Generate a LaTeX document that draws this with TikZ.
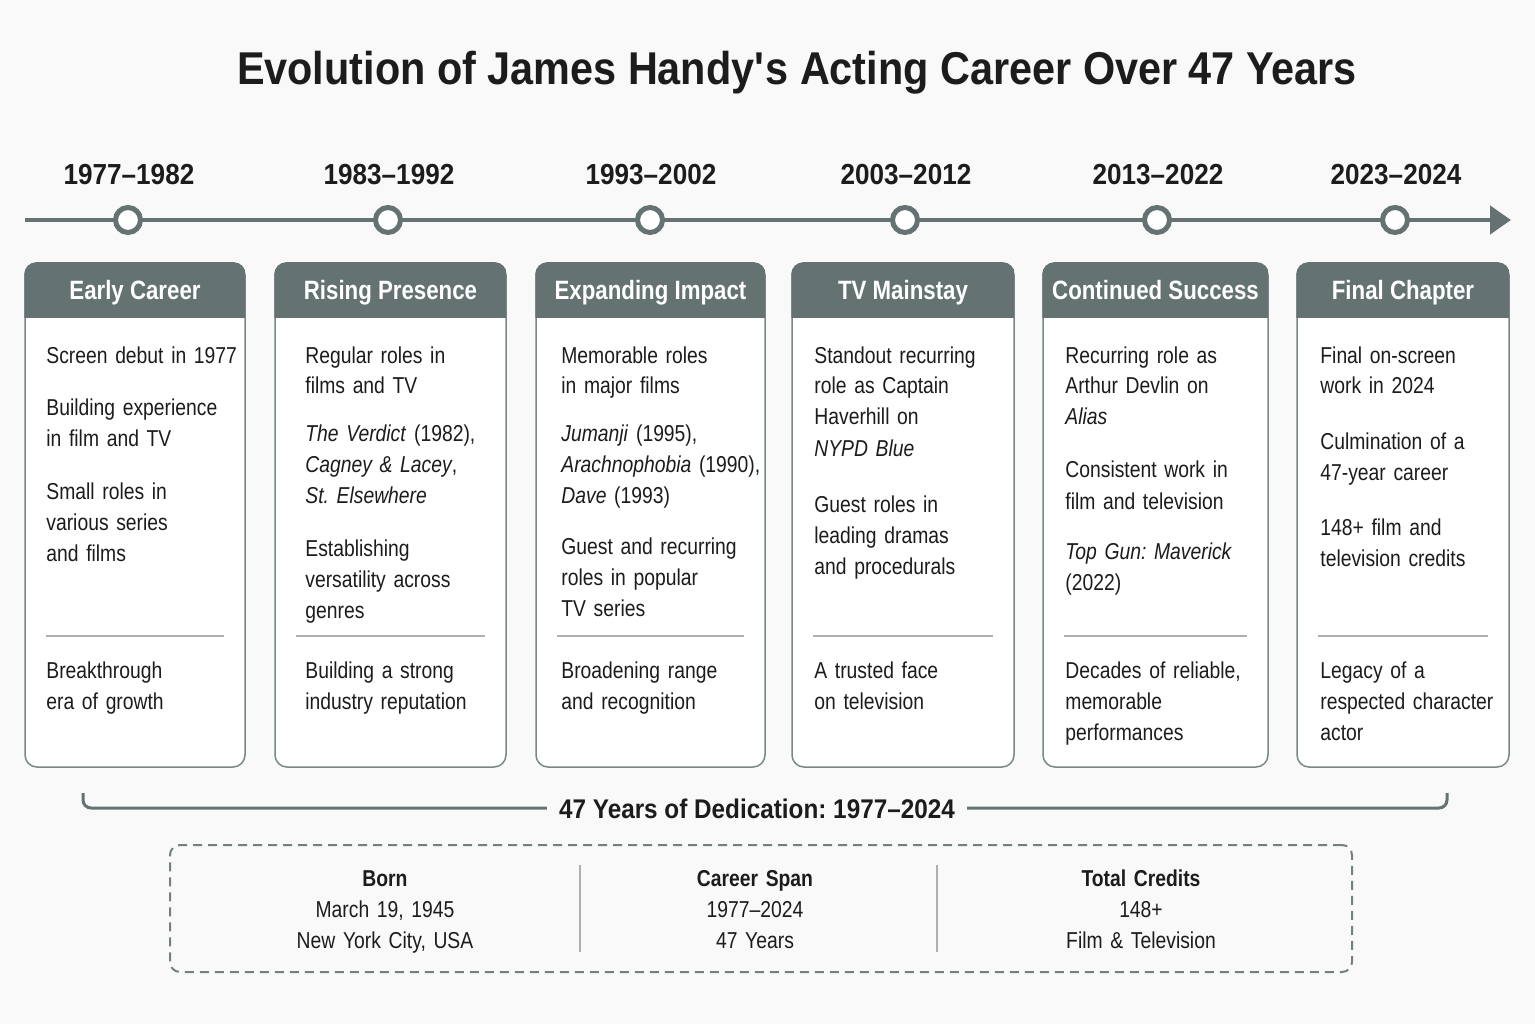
\documentclass[tikz,border=0pt]{standalone}
\usepackage{fontspec}
\setmainfont{Liberation Sans}[FakeStretch=0.84]
\newfontfamily\headfont{Liberation Sans}[FakeStretch=0.9]
\usetikzlibrary{arrows.meta}
\definecolor{slate}{RGB}{100,114,114}
\definecolor{lline}{RGB}{172,176,176}
\definecolor{bgrey}{RGB}{249,249,249}
\definecolor{ink}{RGB}{28,28,28}
\frenchspacing

\begin{document}
\begin{tikzpicture}[x=1pt,y=-1pt,thick]
      \tikzstyle{card}=[draw=slate!85,line width=1.5pt,fill=white,rounded corners=12pt,minimum height=504pt,inner sep=0pt]
      \tikzstyle{head}=[text=white,font=\bfseries\fontsize{26.5}{30}\selectfont]
      \tikzstyle{yearlbl}=[text=ink,font=\headfont\bfseries\fontsize{29}{32}\selectfont]
      \tikzstyle{dot}=[circle,draw=slate,line width=5pt,fill=white,minimum size=25pt,inner sep=0pt]
      \tikzstyle{body}=[anchor=base west,align=left,inner sep=0pt,text width=215pt,text=ink,font=\fontsize{23}{31}\selectfont]
      \tikzstyle{sep}=[draw=lline,line width=1.5pt]
      \tikzstyle{fact}=[anchor=base,align=center,inner sep=0pt,text width=320pt,text=ink,font=\fontsize{23}{31}\selectfont]

      % page
      \fill[bgrey] (0,0) rectangle (1535,1024);
      \useasboundingbox (0,0) rectangle (1535,1024);
      \node[anchor=base,text=ink,font=\headfont\bfseries\fontsize{46}{50}\selectfont] (title) at (797,85)
        {Evolution of James Handy\textquotesingle s Acting Career Over 47 Years};

      % timeline
      \coordinate (tstart) at (25,220);
      \coordinate (tend) at (1511,220);
      \draw[slate,line width=4.5pt,-{Triangle[length=21pt,width=28pt]}] (tstart) -- (tend);
      \foreach \n/\x/\yr in {1/128/1977–1982,2/388/1983–1992,3/650/1993–2002,4/905/2003–2012,5/1157/2013–2022,6/1395/2023–2024}{
        \node[dot] (p\n) at (\x,220) {};
        \node[yearlbl,anchor=base] (y\n) at (\x+1,185) {\yr};
      }

      % cards
      \foreach \n/\l/\r/\t in {1/25/245/Early Career,2/275/506/Rising Presence,3/536/765/Expanding Impact,4/792/1014/TV Mainstay,5/1043/1268/Continued Success,6/1297/1509/Final Chapter}{
        \node[card,minimum width={\r-\l}] (c\n) at ({(\l+\r)/2},515) {};
        \begin{scope}
          \clip[rounded corners=12pt] (c\n.south west) rectangle (c\n.north east);
          \fill[slate] (c\n.north west) rectangle (\r,318);
        \end{scope}
        \node[head,anchor=base] (h\n) at ({(\l+\r)/2},300) {\t};
        \draw[sep] ({\l+21},636) -- ({\r-21},636);
      }

      \node[body] (b1) at (46,363) {Screen debut in 1977\\[22pt]
        Building experience\\in film and TV\\[22pt]
        Small roles in\\various series\\and films};
      \node[body] (f1) at (46,678) {Breakthrough\\era of growth};

      \node[body] (b2) at (305,363) {Regular roles in\\films and TV\\[17pt]
        \textit{The Verdict} (1982),\\\textit{Cagney \& Lacey},\\\textit{St. Elsewhere}\\[22pt]
        Establishing\\versatility across\\genres};
      \node[body] (f2) at (305,678) {Building a strong\\industry reputation};

      \node[body] (b3) at (561,363) {Memorable roles\\in major films\\[17pt]
        \textit{Jumanji} (1995),\\\textit{Arachnophobia} (1990),\\\textit{Dave} (1993)\\[20pt]
        Guest and recurring\\roles in popular\\TV series};
      \node[body] (f3) at (561,678) {Broadening range\\and recognition};

      \node[body] (b4) at (814,363) {Standout recurring\\role as Captain\\Haverhill on\\\textit{NYPD Blue}\\[26pt]
        Guest roles in\\leading dramas\\and procedurals};
      \node[body] (f4) at (814,678) {A trusted face\\on television};

      \node[body] (b5) at (1065,363) {Recurring role as\\Arthur Devlin on\\\textit{Alias}\\[22pt]
        Consistent work in\\film and television\\[20pt]
        \textit{Top Gun: Maverick}\\(2022)};
      \node[body] (f5) at (1065,678) {Decades of reliable,\\memorable\\performances};

      \node[body] (b6) at (1320,363) {Final on-screen\\work in 2024\\[25pt]
        Culmination of a\\47-year career\\[24pt]
        148+ film and\\television credits};
      \node[body] (f6) at (1320,678) {Legacy of a\\respected character\\actor};

      % span bracket
      \coordinate (bl) at (83,793);
      \coordinate (br) at (1447,793);
      \draw[slate,line width=3pt,rounded corners=8pt] (bl) |- (br |- 0,808) -- (br);
      \node[fill=bgrey,inner xsep=12pt,text=ink,font=\headfont\bfseries\fontsize{27}{30}\selectfont] (span) at (757,809)
        {47 Years of Dedication: 1977–2024};

      % facts box
      \node[draw=slate!90,line width=2pt,dash pattern=on 9pt off 6pt,rounded corners=10pt,
        minimum width=1182pt,minimum height=127pt] (facts) at (761,908.5) {};
      \draw[lline,line width=1.5pt] (580,865) -- (580,952);
      \draw[lline,line width=1.5pt] (937,865) -- (937,952);
      \node[fact] (born) at (385,886) {\textbf{Born}\\March 19, 1945\\New York City, USA};
      \node[fact] (cspan) at (755,886) {\textbf{Career Span}\\1977–2024\\47 Years};
      \node[fact] (credits) at (1141,886) {\textbf{Total Credits}\\148+\\Film \& Television};
\end{tikzpicture}
\end{document}
